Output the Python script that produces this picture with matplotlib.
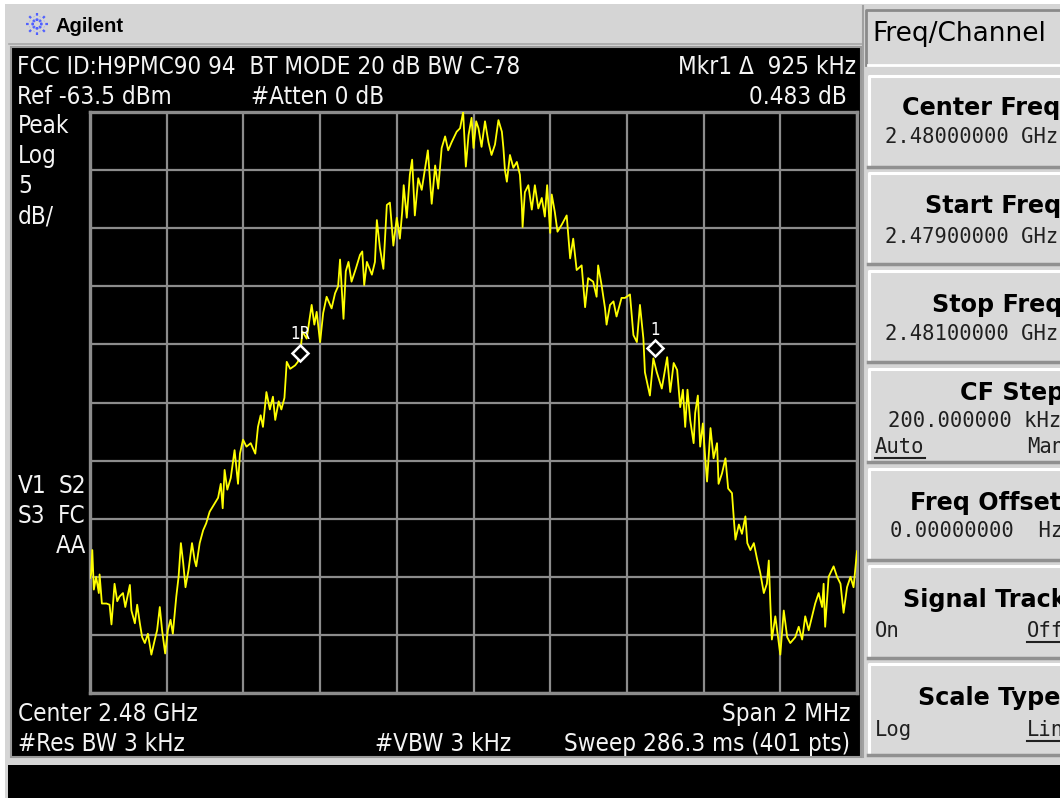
import numpy as np
import matplotlib
matplotlib.use("Agg")
import matplotlib.pyplot as plt
from matplotlib.patches import Rectangle
from matplotlib import font_manager as fm

# ---------------- data ----------------
freq_khz = [-1000, -997, -994, -990, -984, -977, -975, -969, -957, -949, -944, -936, -929, -923,
            -914, -908, -896, -892, -883, -877, -870, -864, -857, -849, -840, -831, -825, -818,
            -812, -804, -797, -790, -784, -775, -769, -763, -757, -751, -743, -734, -727, -723,
            -714, -705, -697, -688, -677, -666, -659, -654, -649, -642, -633, -623, -614, -609,
            -601, -592, -581, -569, -562, -555, -549, -540, -531, -523, -517, -508, -501, -493,
            -487, -478, -465, -458, -452, -446, -435, -422, -415, -409, -400, -392, -383, -370,
            -361, -353, -348, -339, -333, -326, -318, -307, -296, -290, -285, -278, -265, -257,
            -252, -244, -235, -226, -218, -209, -200, -192, -186, -182, -174, -166, -160, -153,
            -144, -135, -126, -119, -109, -100, -92, -83, -74, -66, -57, -44, -35, -27, -20,
            -13, -5, 0, 7, 13, 21, 30, 39, 47, 56, 65, 74, 78, 82, 87, 95, 104, 113, 121, 126,
            128, 134, 143, 152, 160, 169, 178, 186, 192, 200, 204, 212, 219, 230, 243, 252, 260,
            269, 282, 291, 299, 312, 321, 325, 334, 343, 347, 356, 365, 373, 386, 395, 408, 417,
            426, 434, 443, 447, 460, 469, 478, 491, 505, 513, 522, 531, 539, 546, 552, 558, 565,
            574, 578, 585, 591, 598, 604, 609, 618, 626, 635, 639, 648, 657, 664, 674, 679, 683,
            692, 700, 709, 714, 722, 731, 739, 748, 757, 765, 770, 774, 778, 787, 796, 800, 809,
            818, 826, 839, 848, 857, 865, 874, 883, 891, 900, 909, 913, 917, 926, 939, 948, 957,
            965, 974, 983, 991, 1000]
level_dbm = [-103.6, -103.2, -101.2, -104.6, -103.5, -104.9, -103.3, -105.8, -105.8, -105.9, -107.6,
             -104.1, -105.6, -105.2, -104.9, -106.1, -104.2, -106.4, -107.5, -105.9, -107.5, -108.7,
             -109.2, -108.4, -110.2, -108.9, -108.1, -106.1, -108.1, -110.1, -108.1, -107.2, -108.4,
             -105.2, -103.5, -100.6, -102.3, -104.4, -102.9, -100.6, -102.1, -102.6, -100.6, -99.5,
             -98.9, -97.9, -97.3, -96.7, -95.5, -97.6, -94.3, -96.0, -95.0, -92.6, -95.5, -92.9,
             -91.7, -92.3, -92.0, -92.9, -90.6, -89.6, -90.6, -87.6, -89.1, -88.0, -90.0, -88.4,
             -89.1, -88.1, -85.0, -85.6, -85.3, -85.0, -84.3, -82.4, -83.0, -80.1, -81.8, -80.7,
             -83.3, -80.8, -79.4, -80.4, -79.1, -78.5, -76.2, -81.3, -77.2, -76.4, -78.1, -77.0,
             -75.8, -75.5, -78.4, -76.4, -77.5, -76.4, -72.8, -75.2, -77.0, -71.5, -71.3, -75.0,
             -72.6, -74.4, -72.1, -69.8, -72.6, -68.9, -67.6, -72.4, -69.2, -70.2, -68.3, -66.8,
             -71.4, -68.1, -70.1, -66.6, -65.6, -66.8, -66.1, -65.2, -64.9, -63.5, -68.2, -65.5,
             -64.0, -66.6, -64.3, -64.9, -66.5, -64.3, -66.1, -67.2, -66.3, -64.2, -65.2, -66.6,
             -68.5, -69.5, -67.2, -68.3, -67.8, -68.9, -71.5, -73.4, -70.4, -69.8, -71.9, -69.8,
             -71.8, -70.9, -72.5, -69.8, -73.9, -70.6, -72.1, -73.8, -73.2, -72.4, -76.1, -74.4,
             -77.1, -76.7, -80.3, -77.8, -78.1, -79.4, -76.7, -78.4, -80.4, -81.8, -80.1, -79.8,
             -81.1, -79.5, -79.5, -79.2, -82.7, -83.3, -80.1, -83.0, -85.9, -87.9, -84.7, -85.9,
             -87.3, -84.6, -87.6, -85.1, -85.7, -88.9, -87.4, -90.6, -87.4, -90.0, -92.0, -89.4,
             -87.9, -92.3, -90.3, -93.2, -95.3, -90.7, -93.3, -92.0, -95.5, -94.6, -93.3, -95.9,
             -96.3, -98.6, -100.3, -99.0, -99.8, -98.3, -100.6, -101.2, -100.6, -101.9, -103.2,
             -104.9, -104.1, -102.1, -105.8, -108.9, -106.9, -109.2, -110.2, -106.4, -108.7, -109.2,
             -108.7, -107.8, -108.9, -106.9, -108.1, -106.9, -105.8, -104.9, -106.1, -104.1, -107.8,
             -103.5, -102.6, -103.5, -104.1, -106.6, -104.4, -103.5, -104.4, -101.3]

ref_level_dbm = -63.5
db_per_div = 5
span_khz = 2000
marker_f = [-452, 473]
marker_l = [-84.2, -83.8]
marker_lbl = ["1R", "1"]

header_row1 = "FCC ID:H9PMC90 94  BT MODE 20 dB BW C-78"
mkr_text = "Mkr1 \u0394  925 kHz"
mkr_val = "0.483 dB"
ref_text = "Ref -63.5 dBm"
atten_text = "#Atten 0 dB"
left_labels = ["Peak", "Log", "5", "dB/"]
bottom_left = ["Center 2.48 GHz", "#Res BW 3 kHz"]
span_text = "Span 2 MHz"
vbw_text = "#VBW 3 kHz"
sweep_text = "Sweep 286.3 ms (401 pts)"
softkey_titles = ["Center Freq", "Start Freq", "Stop Freq", "CF Step", "Freq Offset",
                  "Signal Track", "Scale Type"]
softkey_values = ["2.48000000 GHz", "2.47900000 GHz", "2.48100000 GHz", "200.000000 kHz",
                  "0.00000000  Hz", "", ""]

W, H = 1060, 798
fig = plt.figure(figsize=(W / 100, H / 100), dpi=100)
fig.patch.set_facecolor("#d5d5d5")
renderer = fig.canvas.get_renderer()

# ---------------- fonts: prefer a narrow / condensed face for the LCD text ----------------
def pick_condensed():
    best = None
    for f in fm.fontManager.ttflist:
        nm = f.name
        st = f.stretch
        narrow = ("Narrow" in nm or "Condensed" in nm or
                  st in ("condensed", "semi-condensed", "extra-condensed", "ultra-condensed") or
                  (isinstance(st, (int, float)) and st < 500))
        if not narrow or f.style != "normal":
            continue
        w = f.weight if isinstance(f.weight, (int, float)) else {"normal": 400, "regular": 400,
                                                                   "book": 400}.get(f.weight, 700)
        if w > 450 or w < 350:
            continue
        score = 0 if "Liberation" in nm else (1 if "DejaVu" in nm else 2)
        if best is None or score < best[0]:
            best = (score, f.fname)
    return best[1] if best else None

cfile = pick_condensed()
if cfile:
    LCDFP = fm.FontProperties(fname=cfile)
else:
    LCDFP = fm.FontProperties(family="DejaVu Sans Mono")

bg = fig.add_axes([0, 0, 1, 1])
bg.set_xlim(0, W)
bg.set_ylim(H, 0)
bg.axis("off")

# fit LCD font size so that the header row is ~505 px wide, cap height at most ~20 px
probe = bg.text(0, 0, header_row1, fontproperties=LCDFP, fontsize=20)
wpx = probe.get_window_extent(renderer).width
probe.remove()
LCDSZ = 20 * 505.0 / wpx
LCDSZ = min(LCDSZ, 19.5)
SMALL = LCDSZ * 0.7

def rect(x, y, w, h, **kw):
    bg.add_patch(Rectangle((x, y), w, h, **kw))

# white outer margins
rect(0, 0, W, 4, color="white", lw=0)
rect(0, 0, 5, H, color="white", lw=0)

# Agilent logo + name
cx, cy = 37, 24
for a in np.arange(0, 2 * np.pi, np.pi / 4):
    bg.plot([cx + 3 * np.cos(a), cx + 11 * np.cos(a)], [cy + 3 * np.sin(a), cy + 11 * np.sin(a)],
            color="#5060ff", lw=1.6, ls=(0, (1.2, 1.2)))
for a in np.arange(np.pi / 8, 2 * np.pi, np.pi / 4):
    bg.plot([cx + 4 * np.cos(a), cx + 8 * np.cos(a)], [cy + 4 * np.sin(a), cy + 8 * np.sin(a)],
            color="#8090ff", lw=1.0, ls=(0, (1, 1.5)))
bg.text(56, 32, "Agilent", family="Liberation Sans", weight="bold", fontsize=14.5,
        color="black", va="baseline", ha="left")

# main black screen
rect(11, 47, 850, 710, facecolor="black", edgecolor="#9a9a9a", lw=1.5)
bg.plot([9, 863], [44, 44], color="#a8a8a8", lw=1.2)
bg.plot([863, 863], [6, 757], color="#a0a0a0", lw=1.5)
rect(8, 765, W - 8, 40, facecolor="black", lw=0)

# Freq/Channel box
rect(866, 10, 200, 55, facecolor="#d8d8d8", edgecolor="none")
bg.plot([866, 866, W], [65, 10, 10], color="#8a8a8a", lw=2)
bg.plot([868, W], [65, 65], color="white", lw=2)
bg.text(872, 41, "Freq/Channel", family="DejaVu Sans", fontsize=19, color="black",
        va="baseline", ha="left")

# softkey buttons
btn = [(75, 167), (172, 264), (270, 362), (368, 462), (468, 560), (565, 658), (663, 755)]
title_x = [902, 925, 932, 960, 910, 903, 918]
title_base = [115, 213, 312, 400, 510, 607, 705]
value_x = [885, 885, 885, 888, 890, 0, 0]
value_base = [143, 243, 340, 427, 537, 0, 0]
MONO = "DejaVu Sans Mono"
VSZ = 14.8
for (t, b), tt, tx, tb, vv, vx, vb in zip(btn, softkey_titles, title_x, title_base,
                                           softkey_values, value_x, value_base):
    rect(868, t, 200, b - t, facecolor="#d9d9d9", edgecolor="none")
    bg.plot([869, 869, W], [b - 2, t + 1, t + 1], color="white", lw=2.2)
    bg.plot([868, W], [b, b], color="#909090", lw=2.5)
    bg.text(tx, tb, tt, family="DejaVu Sans", weight="bold", fontsize=17.2, color="black",
            va="baseline", ha="left")
    if vv:
        bg.text(vx, vb, vv, family=MONO, fontsize=VSZ, color="#202020",
                va="baseline", ha="left")

opt_txt = [("Auto", 875, 453, "left", True), ("Man", 1064, 453, "right", False),
           ("On", 875, 637, "left", False), ("Off", 1064, 637, "right", True),
           ("Log", 875, 736, "left", False), ("Lin", 1064, 736, "right", True)]
for s, x, yb, ha, ul in opt_txt:
    t = bg.text(x, yb, s, family=MONO, fontsize=VSZ, color="#202020", va="baseline", ha=ha)
    if ul:
        wv = t.get_window_extent(renderer).width
        x0 = x if ha == "left" else x - wv
        bg.plot([x0, x0 + wv], [yb + 5, yb + 5], color="#202020", lw=1.5)

# screen annotations
wc = "#f4f4f4"
def lcd(x, yb, s, ha="left"):
    bg.text(x, yb, s, fontproperties=LCDFP, fontsize=LCDSZ, color=wc, va="baseline", ha=ha)

lcd(17, 74, header_row1)
lcd(856, 74, mkr_text, "right")
lcd(17, 104, ref_text)
lcd(251, 104, atten_text)
lcd(847, 104, mkr_val, "right")
for s, yb in zip(left_labels, [133, 163, 193, 223]):
    lcd(18, yb, s)
lcd(18, 493, "V1")
lcd(86, 493, "S2", "right")
lcd(18, 523, "S3")
lcd(86, 523, "FC", "right")
lcd(86, 553, "AA", "right")
lcd(18, 721, bottom_left[0])
lcd(18, 751, bottom_left[1])
lcd(850, 721, span_text, "right")
lcd(375, 751, vbw_text)
lcd(850, 751, sweep_text, "right")

# ---------------- graticule + trace ----------------
ax = fig.add_axes([90 / W, (H - 693) / H, 767 / W, 581 / H])
ax.set_facecolor("black")
ax.set_xlim(-span_khz / 2, span_khz / 2)
ax.set_ylim(ref_level_dbm - 10 * db_per_div, ref_level_dbm)
ax.set_xticks(np.linspace(-span_khz / 2, span_khz / 2, 11))
ax.set_yticks(np.linspace(ref_level_dbm - 10 * db_per_div, ref_level_dbm, 11))
ax.tick_params(length=0, labelbottom=False, labelleft=False)
ax.grid(True, color="#8c8c8c", lw=1.6)
ax.set_axisbelow(True)
for sp in ax.spines.values():
    sp.set_color("#8c8c8c")
    sp.set_linewidth(2.4)

ax.plot(freq_khz, level_dbm, color="#ffff00", lw=1.3, zorder=3)
ax.plot(marker_f, marker_l, ls="none", marker="D", ms=8.5, mfc="black", mec="white",
        mew=1.8, zorder=4)
for f, l, s in zip(marker_f, marker_l, marker_lbl):
    ax.annotate(s, (f, l), xytext=(0, 13), textcoords="offset points", ha="center",
                va="center", color="white", fontproperties=LCDFP, fontsize=SMALL, zorder=5)

fig.savefig("out.png", dpi=100, facecolor=fig.get_facecolor())
